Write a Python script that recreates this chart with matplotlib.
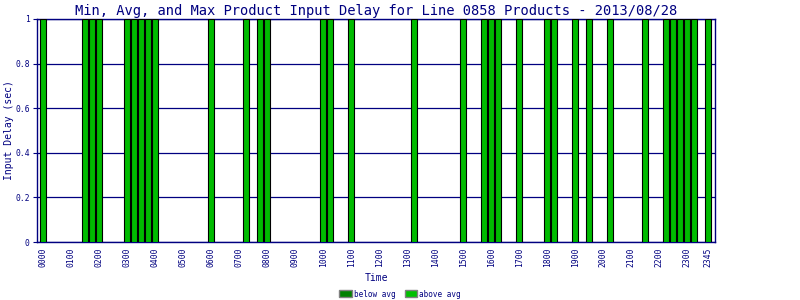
import matplotlib
matplotlib.use("Agg")
import matplotlib.pyplot as plt
from matplotlib.patches import Patch

# Time slots (15 min) that have a recorded input delay, and the delay values
bar_times = ["0000", "0130", "0145", "0200", "0300", "0315", "0330", "0345",
             "0400", "0600", "0715", "0745", "0800", "1000", "1015", "1100",
             "1315", "1500", "1545", "1600", "1615", "1700", "1800", "1815",
             "1900", "1930", "2015", "2130", "2215", "2230", "2245", "2300",
             "2315", "2345"]
delays = [1.0] * len(bar_times)

tick_labels = ["0000", "0100", "0200", "0300", "0400", "0500", "0600", "0700",
               "0800", "0900", "1000", "1100", "1200", "1300", "1400", "1500",
               "1600", "1700", "1800", "1900", "2000", "2100", "2200", "2300",
               "2345"]

navy = "#000080"
plt.rcParams["font.family"] = ["DejaVu Sans Mono"]


def slot(t):
    return int(t[:2]) * 4 + int(t[2:]) // 15


fig = plt.figure(figsize=(8, 3), dpi=100)
ax = fig.add_axes([0.046, 0.193, 0.848, 0.744])

x = [slot(t) for t in bar_times]
ax.bar(x, delays, width=0.8, color="#00bb00", edgecolor="black",
       linewidth=0.8, zorder=3)

ax.set_xlim(-0.9, 96.0)
ax.set_ylim(0, 1)
ax.set_yticks([0, 0.2, 0.4, 0.6, 0.8, 1])
ax.set_yticklabels(["0", "0.2", "0.4", "0.6", "0.8", "1"])
ax.set_xticks([slot(t) for t in tick_labels])
ax.set_xticklabels(tick_labels, rotation=90)
ax.grid(axis="y", color=navy, linewidth=0.9, zorder=1)
ax.tick_params(axis="x", length=0, labelsize=5.8, colors=navy, pad=4)
ax.tick_params(axis="y", length=3, width=0.8, labelsize=5.8, colors=navy, pad=2)
for s in ax.spines.values():
    s.set_color(navy)
    s.set_linewidth(1.0)

ax.set_title("Min, Avg, and Max Product Input Delay for Line 0858 Products - 2013/08/28",
             fontsize=9.9, color=navy, pad=3)
ax.set_xlabel("Time", fontsize=7, color=navy, labelpad=4)
ax.set_ylabel("Input Delay (sec)", fontsize=7, color=navy)
ax.yaxis.set_label_coords(-0.033, 0.5)

handles = [Patch(facecolor="#008000", edgecolor="gray", label="below avg"),
           Patch(facecolor="#00c000", edgecolor="gray", label="above avg")]
fig.legend(handles=handles, loc="lower center", bbox_to_anchor=(0.5, -0.018),
           ncol=2, frameon=False, fontsize=5.5, labelcolor=navy,
           handlelength=1.6, handleheight=1.0, columnspacing=1.2,
           handletextpad=0.3)

fig.savefig("out.png", dpi=100)
